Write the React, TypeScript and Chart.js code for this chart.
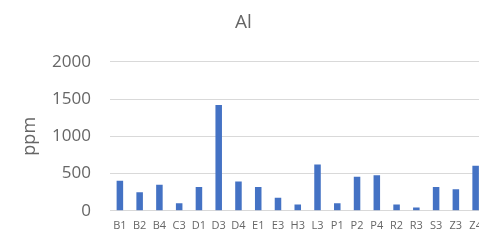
import React, { useEffect, useRef } from "react";
import { Chart, registerables } from "chart.js";

Chart.register(...registerables);

const categories = ["B1", "B2", "B4", "C3", "D1", "D3", "D4", "E1", "E3", "H3", "L3", "P1", "P2", "P4", "R2", "R3", "S3", "Z3", "Z4"];
const alValues = [405, 250, 350, 100, 318, 1420, 392, 318, 175, 85, 622, 100, 458, 478, 85, 45, 318, 288, 605];
const yTicks = [0, 500, 1000, 1500, 2000];

const TEXT = "#666666";
const FONT = "'Open Sans', sans-serif";

export default function App() {
  const ref = useRef<HTMLCanvasElement | null>(null);

  useEffect(() => {
    if (!ref.current) return;
    document.body.style.margin = "0";
    document.body.style.overflow = "hidden";
    const chart = new Chart(ref.current, {
      type: "bar",
      data: {
        labels: categories,
        datasets: [
          {
            label: "Al",
            data: alValues,
            backgroundColor: "#4472C4",
            borderWidth: 0,
            barPercentage: 1,
            categoryPercentage: 0.33,
          },
        ],
      },
      options: {
        animation: false,
        responsive: false,
        maintainAspectRatio: false,
        layout: { padding: { left: 0, right: 3, top: 0, bottom: 0 } },
        plugins: {
          legend: { display: false },
          tooltip: { enabled: false },
          title: {
            display: true,
            text: "Al",
            color: TEXT,
            font: { family: FONT, size: 19, weight: "normal" },
            padding: { top: 11, bottom: 28 },
          },
        },
        scales: {
          x: {
            grid: { display: false, drawTicks: false },
            border: { display: false },
            ticks: {
              color: TEXT,
              font: { family: FONT, size: 11 },
              autoSkip: false,
              maxRotation: 0,
              minRotation: 0,
              padding: 8,
            },
            afterFit: (scale: any) => {
              scale.height = 24.5;
            },
          },
          y: {
            min: 0,
            max: 2000,
            afterBuildTicks: (scale: any) => {
              scale.ticks = yTicks.map((v) => ({ value: v }));
            },
            grid: { color: "#d9d9d9", drawTicks: false, lineWidth: 1 },
            border: { display: false },
            ticks: {
              color: TEXT,
              font: { family: FONT, size: 17 },
              padding: 19,
              callback: (value: any) => String(value),
            },
            title: {
              display: true,
              text: "ppm",
              color: TEXT,
              font: { family: FONT, size: 18 },
              padding: { top: 19, bottom: 0 },
            },
            afterFit: (scale: any) => {
              scale.width = 110;
            },
          },
        },
      },
    });
    return () => chart.destroy();
  }, []);

  return (
    <div style={{ position: "fixed", left: 0, top: 0, width: 479, height: 240, overflow: "hidden", background: "#fff" }}>
      <canvas ref={ref} width={490} height={240} style={{ display: "block", width: 490, height: 240 }} />
    </div>
  );
}
